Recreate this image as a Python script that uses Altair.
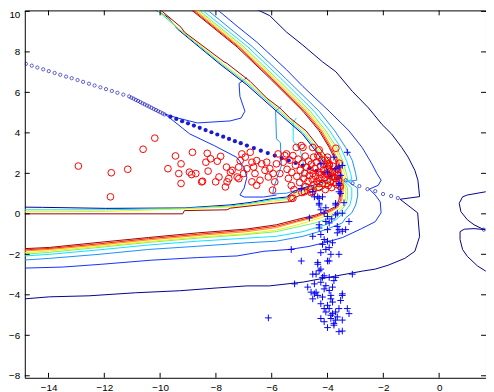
import altair as alt
import pandas as pd

# ---------------- axis ticks ----------------
xticks = [-14, -12, -10, -8, -6, -4, -2, 0]
yticks = [-8, -6, -4, -2, 0, 2, 4, 6, 8, 10]

# ---------------- outer contour family (top edge -> apex -> left edge) ----------------
c1_navy = [(-6.54, 10.1), (-6.07, 9.79), (-5.47, 8.98), (-4.88, 8.33), (-4.18, 7.51), (-3.70, 7.02),
           (-3.11, 6.05), (-2.53, 5.23), (-2.05, 4.42), (-1.70, 3.94), (-1.34, 3.28), (-1.11, 2.80),
           (-0.87, 2.15), (-0.76, 1.66), (-0.70, 0.85), (-1.40, 0.72), (-0.77, 0.05), (-0.70, -1.12),
           (-0.87, -1.85), (-1.23, -2.20), (-1.83, -2.54), (-2.29, -2.73), (-2.75, -2.83), (-3.70, -3.07),
           (-4.87, -3.37), (-6.08, -3.56), (-6.89, -3.56), (-7.95, -3.66), (-9.30, -3.80), (-10.89, -3.90),
           (-12.55, -4.05), (-13.96, -4.10), (-14.85, -4.20)]
c2_blue = [(-7.96, 10.1), (-7.24, 9.27), (-6.54, 8.49), (-6.00, 7.80), (-5.47, 7.12), (-4.88, 6.29),
           (-3.94, 5.07), (-3.23, 4.10), (-2.76, 3.28), (-2.41, 2.47), (-2.23, 1.99), (-2.08, 1.66),
           (-2.18, 1.41), (-2.50, 1.22), (-2.29, 0.93), (-2.11, 0.59), (-2.08, 0.05), (-2.29, -0.39),
           (-2.78, -0.73), (-3.46, -1.17), (-4.06, -1.41), (-4.66, -1.61), (-5.37, -1.76), (-6.28, -1.85),
           (-7.24, -2.08), (-8.65, -2.16), (-10.32, -2.29), (-12.09, -2.49), (-13.50, -2.63), (-14.85, -2.68)]
c3_lightblue = [(-8.33, 10.1), (-6.68, 8.24), (-5.51, 6.70), (-4.30, 5.07), (-3.74, 4.10), (-3.35, 3.28),
                (-3.11, 2.63), (-2.99, 1.99), (-2.95, 1.66), (-3.28, 1.61), (-2.92, 1.27), (-2.92, 0.88),
                (-2.99, 0.44), (-3.13, 0.05), (-3.35, -0.20), (-3.47, -0.45), (-4.06, -0.78), (-4.88, -1.11),
                (-5.83, -1.35), (-6.89, -1.43), (-8.65, -1.60), (-10.42, -1.76), (-12.19, -2.00),
                (-13.96, -2.20), (-14.85, -2.28)]
c4_cyan = [(-8.52, 10.1), (-6.85, 8.24), (-5.68, 6.70), (-4.48, 5.07), (-3.92, 4.10), (-3.53, 3.28),
           (-3.32, 2.63), (-3.17, 1.99), (-3.13, 1.71), (-3.35, 1.56), (-3.13, 1.27), (-3.13, 0.83),
           (-3.20, 0.44), (-3.38, 0.10), (-3.70, -0.29), (-4.06, -0.54), (-4.88, -0.88), (-5.83, -1.11),
           (-6.89, -1.20), (-8.65, -1.35), (-10.42, -1.54), (-12.19, -1.78), (-13.96, -2.00), (-14.85, -2.08)]
c5_green = [(-8.65, 10.1), (-6.99, 8.24), (-5.83, 6.70), (-4.62, 5.07), (-4.06, 4.10), (-3.67, 3.28),
            (-3.46, 2.63), (-3.32, 1.99), (-3.28, 1.71), (-3.42, 1.58), (-3.28, 1.27), (-3.28, 0.78),
            (-3.35, 0.44), (-3.53, 0.15), (-3.84, -0.15), (-4.41, -0.44), (-5.12, -0.66), (-5.83, -0.88),
            (-6.89, -1.02), (-8.65, -1.20), (-10.42, -1.41), (-12.19, -1.66), (-13.96, -1.90), (-14.85, -2.00)]
c6_yellow = [(-8.72, 10.1), (-7.06, 8.24), (-5.90, 6.70), (-4.70, 5.07), (-4.13, 4.10), (-3.74, 3.28),
             (-3.53, 2.63), (-3.39, 1.99), (-3.35, 1.71), (-3.46, 1.58), (-3.35, 1.27), (-3.35, 0.73),
             (-3.46, 0.39), (-3.70, 0.10), (-4.13, -0.15), (-5.12, -0.56), (-5.83, -0.80), (-6.89, -0.98),
             (-8.65, -1.15), (-10.42, -1.37), (-12.19, -1.61), (-13.96, -1.83), (-14.85, -1.92)]
c7_orange = [(-8.79, 10.1), (-7.14, 8.24), (-5.97, 6.70), (-4.77, 5.07), (-4.20, 4.10), (-3.85, 3.28),
             (-3.60, 2.63), (-3.48, 1.99), (-3.42, 1.33), (-3.49, 0.68), (-3.63, 0.32), (-3.87, 0.12),
             (-4.41, -0.17), (-5.12, -0.41), (-5.83, -0.68), (-6.89, -0.88), (-8.65, -1.07), (-10.42, -1.29),
             (-12.19, -1.54), (-13.96, -1.76), (-14.85, -1.83)]
c8_red = [(-8.85, 10.1), (-7.19, 8.24), (-6.02, 6.70), (-4.83, 5.07), (-4.25, 4.10), (-3.90, 3.28),
          (-3.65, 2.63), (-3.53, 1.99), (-3.48, 1.33), (-3.53, 0.68), (-3.67, 0.34), (-3.91, 0.15),
          (-4.41, -0.11), (-5.12, -0.36), (-5.83, -0.61), (-6.89, -0.81), (-8.65, -1.01), (-10.42, -1.23),
          (-12.19, -1.48), (-13.96, -1.71), (-14.85, -1.78)]
c9_darkred = [(-8.90, 10.1), (-7.24, 8.24), (-6.07, 6.70), (-4.88, 5.07), (-4.30, 4.10), (-3.94, 3.28),
              (-3.71, 2.63), (-3.59, 1.99), (-3.53, 1.33), (-3.59, 0.68), (-3.71, 0.36), (-3.94, 0.20),
              (-4.41, -0.05), (-5.12, -0.29), (-5.83, -0.54), (-6.89, -0.75), (-8.65, -0.94), (-10.42, -1.17),
              (-12.19, -1.41), (-13.96, -1.66), (-14.85, -1.72)]

# ---------------- inner boundary family ----------------
i1_navy = [(-10.19, 10.1), (-9.72, 9.71), (-9.37, 9.12), (-7.85, 7.39), (-6.89, 6.37), (-5.83, 5.07),
           (-4.90, 3.95), (-4.45, 3.15), (-4.13, 2.54), (-4.01, 2.15), (-3.95, 1.80), (-4.02, 1.66),
           (-4.38, 1.46), (-4.84, 1.29), (-5.22, 1.10), (-5.47, 0.83), (-5.94, 0.76), (-6.78, 0.56),
           (-7.49, 0.44), (-9.13, 0.29), (-11.95, 0.27), (-14.21, 0.32), (-14.85, 0.33)]
i4_cyan = [(-10.14, 10.1), (-9.33, 9.12), (-7.81, 7.41), (-6.85, 6.41), (-5.79, 5.12), (-4.87, 4.00),
           (-4.41, 3.20), (-4.08, 2.56), (-3.95, 2.15), (-3.88, 1.78), (-3.95, 1.61), (-4.34, 1.39),
           (-4.80, 1.22), (-5.19, 1.02), (-5.44, 0.78), (-5.94, 0.71), (-6.78, 0.51), (-7.49, 0.39),
           (-9.13, 0.27), (-11.95, 0.20), (-14.85, 0.20)]
i6_yellow = [(-10.09, 10.1), (-9.30, 9.12), (-7.77, 7.44), (-6.82, 6.46), (-5.76, 5.17), (-4.82, 4.05),
             (-4.36, 3.24), (-4.01, 2.61), (-3.89, 2.15), (-3.81, 1.76), (-3.89, 1.54), (-4.32, 1.29),
             (-4.78, 1.12), (-5.16, 0.95), (-5.40, 0.71), (-5.94, 0.63), (-6.78, 0.46), (-7.49, 0.34),
             (-9.13, 0.24), (-11.95, 0.12), (-14.85, 0.10)]
i9_darkred = [(-10.01, 10.1), (-9.25, 9.22), (-9.13, 8.98), (-7.71, 7.51), (-7.60, 7.43), (-6.77, 6.54),
              (-6.18, 5.72), (-5.71, 5.23), (-5.36, 4.75), (-4.77, 4.10), (-4.30, 3.28), (-3.94, 2.63),
              (-3.82, 2.15), (-3.74, 1.76), (-3.82, 1.46), (-4.30, 1.17), (-4.77, 1.01), (-5.12, 0.84),
              (-5.36, 0.60), (-5.94, 0.52), (-6.78, 0.39), (-7.48, 0.28), (-7.60, 0.20), (-9.13, 0.16),
              (-9.19, 0.0), (-14.85, 0.0)]
inner_blue = [(-6.89, 6.73), (-7.17, 6.44), (-7.14, 5.80), (-6.96, 5.07), (-7.10, 4.73), (-7.49, 4.59),
              (-8.66, 4.49), (-9.36, 4.73), (-9.83, 4.93), (-8.94, 3.95), (-8.06, 3.37), (-7.24, 2.78),
              (-6.99, 2.29), (-6.89, 1.80), (-6.99, 1.27), (-7.14, 0.93), (-6.99, 0.83), (-6.29, 0.83),
              (-5.83, 0.93)]
inner_lightblue = [(-5.65, 5.32), (-5.86, 5.07), (-5.83, 3.71), (-5.69, 3.51), (-5.65, 2.39), (-5.90, 1.41),
                   (-5.97, 0.98), (-5.47, 1.02), (-5.12, 1.17)]
inner_cyan = [(-5.12, 4.73), (-5.23, 4.54), (-5.23, 3.61), (-4.98, 3.12), (-4.84, 2.39), (-4.94, 1.66),
              (-4.69, 1.27)]
right_navy = [(1.67, 1.09), (1.01, 0.93), (0.84, 0.84), (0.72, 0.52), (0.78, 0.11), (1.01, -0.29),
              (1.25, -0.54), (1.53, -0.73), (1.64, -0.78), (1.25, -0.73), (0.90, -0.76), (0.75, -0.88),
              (0.75, -1.27), (0.84, -1.76), (1.01, -2.10), (1.37, -2.57), (1.67, -2.83)]

contour_lines = [
    ("c1", "L1", c1_navy), ("r1", "L1", right_navy), ("c2", "L2", c2_blue), ("c3", "L3", c3_lightblue),
    ("c4", "L4", c4_cyan), ("c5", "L5", c5_green), ("c6", "L6", c6_yellow), ("c7", "L7", c7_orange),
    ("c8", "L8", c8_red), ("c9", "L9", c9_darkred),
    ("ib", "L2", inner_blue), ("ilb", "L3", inner_lightblue), ("ic", "L4", inner_cyan),
    ("i1", "L1", i1_navy), ("i4", "L4", i4_cyan), ("i6", "L6", i6_yellow), ("i9", "L9", i9_darkred),
]
levels = ["L1", "L2", "L3", "L4", "L5", "L6", "L7", "L8", "L9"]
level_colors = ["#00008c", "#1030ff", "#1a8cff", "#10e0ff", "#70f070", "#f0f000", "#ff8c00", "#ff1a00", "#9a0000"]

# ---------------- dotted line ----------------
dots_hollow = [(-14.81, 7.41), (-14.60, 7.32), (-14.40, 7.23), (-14.19, 7.14), (-13.99, 7.05), (-13.78, 6.96),
               (-13.58, 6.87), (-13.37, 6.78), (-13.17, 6.70), (-12.96, 6.61), (-12.76, 6.52), (-12.55, 6.43),
               (-12.35, 6.34), (-12.14, 6.25), (-11.94, 6.16), (-11.73, 6.07), (-11.53, 5.98), (-11.32, 5.89),
               (-11.11, 5.80), (-11.03, 5.74), (-10.95, 5.69), (-10.87, 5.63), (-10.79, 5.58), (-10.71, 5.52),
               (-10.63, 5.46), (-10.55, 5.41), (-10.47, 5.35), (-10.39, 5.30), (-10.31, 5.24), (-10.23, 5.18),
               (-10.15, 5.13), (-10.07, 5.07), (-9.99, 5.02), (-9.91, 4.96), (-9.84, 4.91),
               (-3.35, 1.66), (-3.10, 1.51), (-2.86, 1.37), (-2.57, 1.22), (-2.29, 1.12), (-2.01, 0.98),
               (-1.72, 0.88), (-1.48, 0.78), (1.60, -0.78)]
dots_filled = [(-9.63, 4.80), (-9.42, 4.69), (-9.21, 4.58), (-9.00, 4.47), (-8.79, 4.36), (-8.58, 4.25),
               (-8.37, 4.14), (-8.16, 4.03), (-7.95, 3.92), (-7.74, 3.81), (-7.53, 3.70), (-7.32, 3.59),
               (-7.11, 3.49), (-6.89, 3.37), (-6.64, 3.25), (-6.39, 3.12), (-6.14, 3.00), (-5.89, 2.88),
               (-5.64, 2.75), (-5.39, 2.63), (-5.14, 2.51), (-4.89, 2.38), (-4.64, 2.26), (-4.39, 2.13),
               (-4.14, 2.01), (-3.89, 1.89), (-3.64, 1.76)]

# ---------------- red circles ----------------
red_pts = [(-12.93, 2.36), (-11.75, 2.03), (-11.16, 2.20), (-11.78, 0.84), (-10.61, 3.19), (-10.19, 3.74),
           (-9.72, 2.23), (-9.45, 2.86), (-9.25, 2.47), (-9.33, 1.99), (-9.25, 1.50), (-8.84, 3.04),
           (-8.95, 2.06), (-8.87, 1.94), (-8.72, 1.99), (-8.51, 1.58), (-8.31, 2.99), (-8.36, 2.55),
           (-8.19, 2.72), (-7.95, 2.60), (-7.83, 2.84), (-8.28, 2.11), (-8.01, 1.58), (-7.89, 1.82),
           (-7.62, 2.31), (-7.48, 2.06), (-7.66, 1.33), (-7.60, 1.58), (-7.24, 1.82), (-7.18, 2.31),
           (-7.13, 2.63), (-7.07, 2.96), (-6.95, 2.80), (-8.48, 1.61), (-7.42, 2.15), (-7.01, 1.99),
           (-6.89, 2.23), (-6.77, 3.04), (-6.71, 2.55), (-6.65, 2.31), (-6.54, 2.63), (-6.60, 1.99),
           (-6.71, 1.58), (-6.54, 1.41), (-6.42, 1.66), (-6.36, 2.47), (-6.24, 2.15), (-6.18, 2.55),
           (-6.07, 2.23), (-6.12, 1.82), (-5.95, 1.99), (-5.89, 1.58), (-5.97, 1.17), (-5.83, 2.47),
           (-5.77, 2.96), (-5.59, 2.55), (-5.71, 1.99), (-5.53, 2.88), (-7.18, 1.74), (-7.54, 1.74),
           (-5.45, 2.20), (-5.40, 1.75), (-5.35, 2.65), (-5.30, 1.40), (-5.28, 2.05), (-5.24, 2.88),
           (-5.20, 1.20), (-5.15, 2.40), (-5.10, 1.85), (-5.05, 2.70), (-5.00, 1.55), (-4.98, 2.15),
           (-4.94, 3.37), (-4.92, 1.05), (-4.90, 2.50), (-4.88, 3.28), (-4.85, 1.75), (-4.82, 2.00),
           (-4.80, 2.85), (-4.78, 1.35), (-4.75, 2.30), (-4.70, 1.60), (-4.68, 2.60), (-4.65, 1.90),
           (-4.62, 2.15), (-4.60, 1.25), (-4.58, 2.45), (-4.55, 1.70), (-4.53, 3.28), (-4.52, 2.00),
           (-4.50, 2.80), (-4.48, 1.45), (-4.45, 2.25), (-4.43, 1.85), (-4.40, 2.55), (-4.38, 1.60),
           (-4.35, 2.88), (-4.33, 2.05), (-4.30, 1.30), (-4.30, 3.16), (-4.28, 1.75), (-4.25, 2.35),
           (-4.22, 1.95), (-4.20, 2.65), (-4.18, 1.50), (-4.15, 2.15), (-4.12, 1.80), (-4.10, 2.45),
           (-4.08, 1.20), (-4.05, 2.00), (-4.02, 1.65), (-4.00, 2.25), (-4.00, 2.63), (-3.97, 1.40),
           (-3.95, 1.90), (-3.93, 2.40), (-3.90, 1.60), (-3.88, 2.10), (-3.85, 1.30), (-3.82, 1.85),
           (-3.80, 2.35), (-3.78, 1.55), (-3.75, 2.05), (-3.72, 1.75), (-3.70, 3.24), (-3.68, 1.45),
           (-3.65, 2.20), (-3.62, 1.90), (-3.60, 1.65), (-3.58, 2.50), (-3.55, 1.35), (-3.94, 2.47),
           (-3.82, 2.06), (-4.59, 1.05), (-4.83, 1.09), (-5.30, 0.76), (-5.24, 0.77), (-4.53, 1.09),
           (-4.30, 1.50), (-5.47, 2.96), (-4.30, 2.80), (-4.00, 2.80), (-5.12, 3.28)]

# ---------------- blue crosses ----------------
blue_pts = [(-3.29, 3.04), (-3.77, 2.80), (-4.24, 2.47), (-3.47, 2.39), (-3.59, 2.31), (-3.70, 2.23),
            (-4.00, 2.06), (-3.53, 1.90), (-3.59, 1.50), (-3.59, 1.41), (-3.59, 1.09), (-3.53, 1.01),
            (-4.94, 1.25), (-4.53, 1.09), (-4.35, 0.84), (-4.18, 0.84), (-4.47, 0.84), (-4.30, 0.77),
            (-4.30, 0.52), (-3.71, 0.52), (-3.41, 0.55), (-3.71, 0.44), (-4.24, 0.20), (-4.12, 0.03),
            (-3.71, -0.05), (-3.47, 0.03), (-3.65, 0.03), (-4.00, -0.13), (-4.06, -0.38), (-3.94, -0.45),
            (-3.23, -0.38), (-3.65, -0.62), (-3.59, -0.78), (-3.47, -0.86), (-3.35, -0.78), (-4.30, -0.70),
            (-4.00, -0.78), (-4.53, -1.11), (-4.24, -1.02), (-4.12, -1.27), (-4.00, -1.35), (-3.82, -1.43),
            (-4.18, -1.51), (-3.94, -1.67), (-4.06, -1.76), (-3.59, -2.00), (-3.88, -2.00), (-4.35, -2.40),
            (-4.00, -2.33), (-4.94, -2.33), (-5.30, -1.76), (-4.24, -2.73), (-4.41, -2.98), (-4.18, -3.14),
            (-3.94, -3.14), (-3.71, -3.14), (-3.11, -2.98), (-5.18, -3.46), (-4.71, -3.62), (-4.47, -3.46),
            (-4.24, -3.38), (-4.06, -3.55), (-3.82, -3.62), (-4.12, -3.71), (-3.94, -3.79), (-4.59, -3.87),
            (-4.47, -3.95), (-4.35, -4.03), (-4.53, -4.20), (-4.18, -4.11), (-3.88, -4.03), (-3.47, -4.03),
            (-3.53, -4.28), (-4.24, -4.44), (-4.00, -4.52), (-3.82, -4.36), (-4.12, -4.68), (-3.94, -4.68),
            (-4.06, -4.85), (-3.82, -4.93), (-3.71, -4.85), (-3.59, -4.68), (-3.23, -4.93), (-4.24, -5.17),
            (-3.88, -5.17), (-4.12, -5.33), (-3.71, -5.25), (-3.47, -5.25), (-3.77, -5.50), (-4.00, -5.62),
            (-3.59, -5.82), (-3.47, -5.79), (-6.12, -5.14), (-4.30, 0.44), (-4.30, -0.54), (-3.65, -0.94),
            (-4.24, -1.92), (-3.94, -2.33), (-4.35, -2.49), (-4.30, -2.81), (-4.53, -2.98), (-4.12, -3.06),
            (-3.77, -3.30), (-3.47, -3.95), (-4.41, -3.87), (-3.88, -4.20), (-3.88, -5.01), (-3.65, -5.09),
            (-3.77, -5.41), (-3.29, -4.68), (-4.65, -0.20), (-4.06, 0.30), (-3.85, -0.25)]

# ---------------- build tables ----------------
rows = []
for name, lvl, pts in contour_lines:
    for i, (x, y) in enumerate(pts):
        rows.append({"line": name, "lvl": lvl, "seq": i, "x": x, "y": y})
df_c = pd.DataFrame(rows)
df_dh = pd.DataFrame(dots_hollow, columns=["x", "y"])
df_df = pd.DataFrame(dots_filled, columns=["x", "y"])
df_r = pd.DataFrame(red_pts, columns=["x", "y"])
df_b = pd.DataFrame(blue_pts, columns=["x", "y"])
df_xt = pd.DataFrame({"t": xticks})
df_yt = pd.DataFrame({"t": yticks})

W, H = 467, 372
xs = alt.Scale(domain=[-14.85, 1.68], nice=False, zero=False)
ys = alt.Scale(domain=[-8.10, 10.05], nice=False, zero=False)
xaxis = alt.Axis(values=xticks, ticks=False, tickSize=0, domain=False, grid=False,
                 labelPadding=5, title=None, labelFlush=False)
yaxis = alt.Axis(values=yticks, ticks=False, tickSize=0, domain=False, grid=False,
                 labelPadding=5, title=None, labelFlush=False,
                 labelOffset=alt.expr("datum.value >= 10 ? 3 : 0"))
X = alt.X("x:Q", scale=xs, axis=xaxis)
Y = alt.Y("y:Q", scale=ys, axis=yaxis)

contours = alt.Chart(df_c).mark_line(strokeWidth=1, clip=True).encode(
    x=X, y=Y, detail="line:N", order="seq:Q",
    color=alt.Color("lvl:N", scale=alt.Scale(domain=levels, range=level_colors), legend=None),
)
dots1 = alt.Chart(df_dh).mark_point(shape="circle", size=11, filled=False, color="#0000b4",
                                    strokeWidth=0.9, clip=True).encode(x=X, y=Y)
dots2 = alt.Chart(df_df).mark_point(shape="circle", size=18, filled=True, color="#1a1ad0",
                                    opacity=1, clip=True).encode(x=X, y=Y)
reds = alt.Chart(df_r).mark_point(shape="circle", size=46, filled=False, color="#ff0000",
                                  strokeWidth=1, opacity=1, clip=True).encode(x=X, y=Y)
blues = alt.Chart(df_b).mark_point(shape="M-1,0L1,0M0,-1L0,1", size=46, filled=False, color="#0000ff",
                                   strokeWidth=1, opacity=1, clip=True).encode(x=X, y=Y)

tb = alt.Chart(df_xt).mark_rule(color="black").encode(x=alt.X("t:Q", scale=xs, axis=xaxis),
                                                      y=alt.value(H), y2=alt.value(H - 5))
tt = alt.Chart(df_xt).mark_rule(color="black").encode(x=alt.X("t:Q", scale=xs, axis=xaxis),
                                                      y=alt.value(0), y2=alt.value(5))
tl = alt.Chart(df_yt).mark_rule(color="black").encode(y=alt.Y("t:Q", scale=ys, axis=yaxis),
                                                      x=alt.value(0), x2=alt.value(5))
tr = alt.Chart(df_yt).mark_rule(color="black").encode(y=alt.Y("t:Q", scale=ys, axis=yaxis),
                                                      x=alt.value(W), x2=alt.value(W - 5))

chart = alt.layer(contours, dots1, dots2, reds, blues, tb, tt, tl, tr).properties(
    width=W, height=H,
    autosize=alt.AutoSizeParams(type="none"),
    padding={"left": 17, "top": 0, "right": 0, "bottom": 16},
    background="white",
).configure_view(stroke="black", strokeWidth=1).configure_axis(
    labelFont="Liberation Sans", labelFontSize=10, labelColor="black"
)

chart.save("out.html", embed_options={"renderer": "svg", "actions": False})
